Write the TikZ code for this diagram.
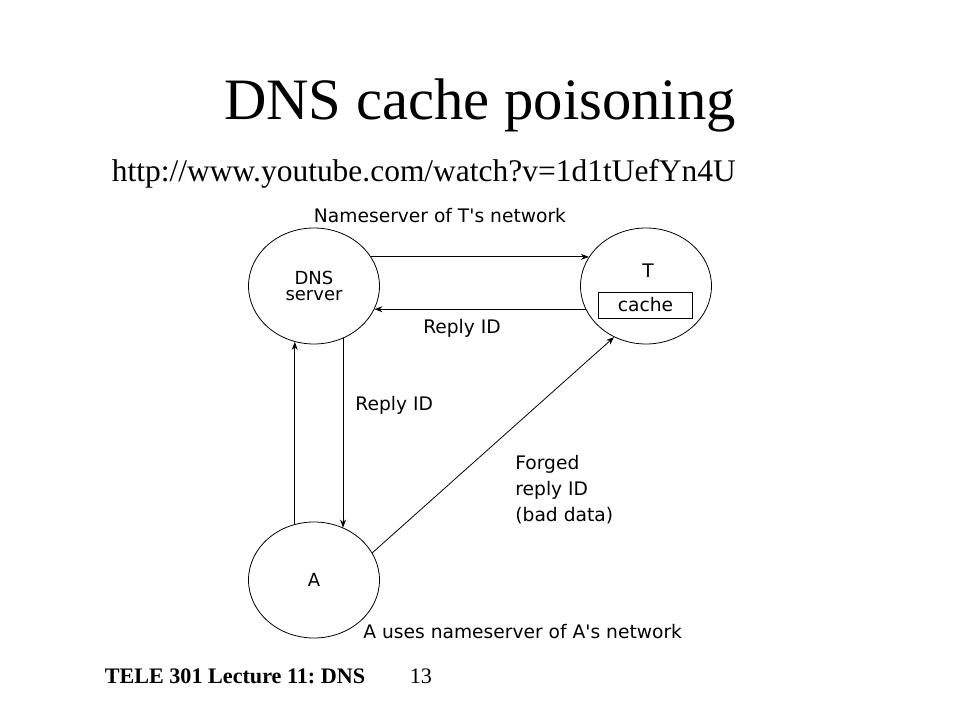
\documentclass[tikz,border=0pt]{standalone}
\usepackage{fontspec}
\setmainfont{Liberation Serif}
\newfontfamily\figfont{DejaVu Sans}
\usetikzlibrary{arrows.meta}
\usetikzlibrary{shapes.geometric}
\frenchspacing

\begin{document}
\begin{tikzpicture}[->,>={Stealth[length=6pt,width=4.5pt]},x=0.75pt,y=-0.75pt,line width=0.6pt,
		host/.style={draw,ellipse,minimum width=98.25pt,minimum height=87pt,inner sep=0pt,align=center,font=\figfont\fontsize{13.5}{12.5}\selectfont},
		lbl/.style={inner sep=0pt,align=left,font=\figfont\fontsize{14}{19.5}\selectfont}]
		\useasboundingbox (0,0) rectangle (960,720);
		\node[anchor=base,font=\fontsize{44}{50}\selectfont] (title) at (480,120) {DNS cache poisoning};
		\node[anchor=base west,font=\fontsize{23.6}{28}\selectfont] (url) at (107,182) {http://www.youtube.com/watch?v=1d1tUefYn4U};
		\node[host] (dns) at (314,286) {DNS\\server};
		\node[host] (tnode) at (646,286) {};
		\node[host] (a) at (314,580) {A};
		\node[lbl,anchor=base] (tlbl) at (648,277) {T};
		\node[lbl,draw,minimum width=71pt,minimum height=19.5pt,align=center] (cache) at (645.5,305) {cache};
		\draw (dns.27) -- (tnode.153);
		\draw (tnode.201) -- (dns.-21);
		\draw (a.109) -- (dns.251);
		\draw (dns.299) -- (a.61);
		\draw (a.25) -- (tnode.238);
		\node[lbl,anchor=base] (tnet) at (440,223) {Nameserver of T's network};
		\node[lbl,anchor=base] (reply1) at (462,333) {Reply ID};
		\node[lbl,anchor=base west] (reply2) at (355,410) {Reply ID};
		\node[lbl,anchor=north west] (forged) at (515,455) {Forged\\reply ID\\(bad data)};
		\node[lbl,anchor=base west] (anet) at (363,638) {A uses nameserver of A's network};
		\node[anchor=base west,font=\bfseries\fontsize{16.6}{20}\selectfont] (footer) at (100,683) {TELE 301 Lecture 11: DNS};
		\node[anchor=base west,font=\fontsize{16.6}{20}\selectfont] (page) at (405,683) {13};
\end{tikzpicture}
\end{document}
